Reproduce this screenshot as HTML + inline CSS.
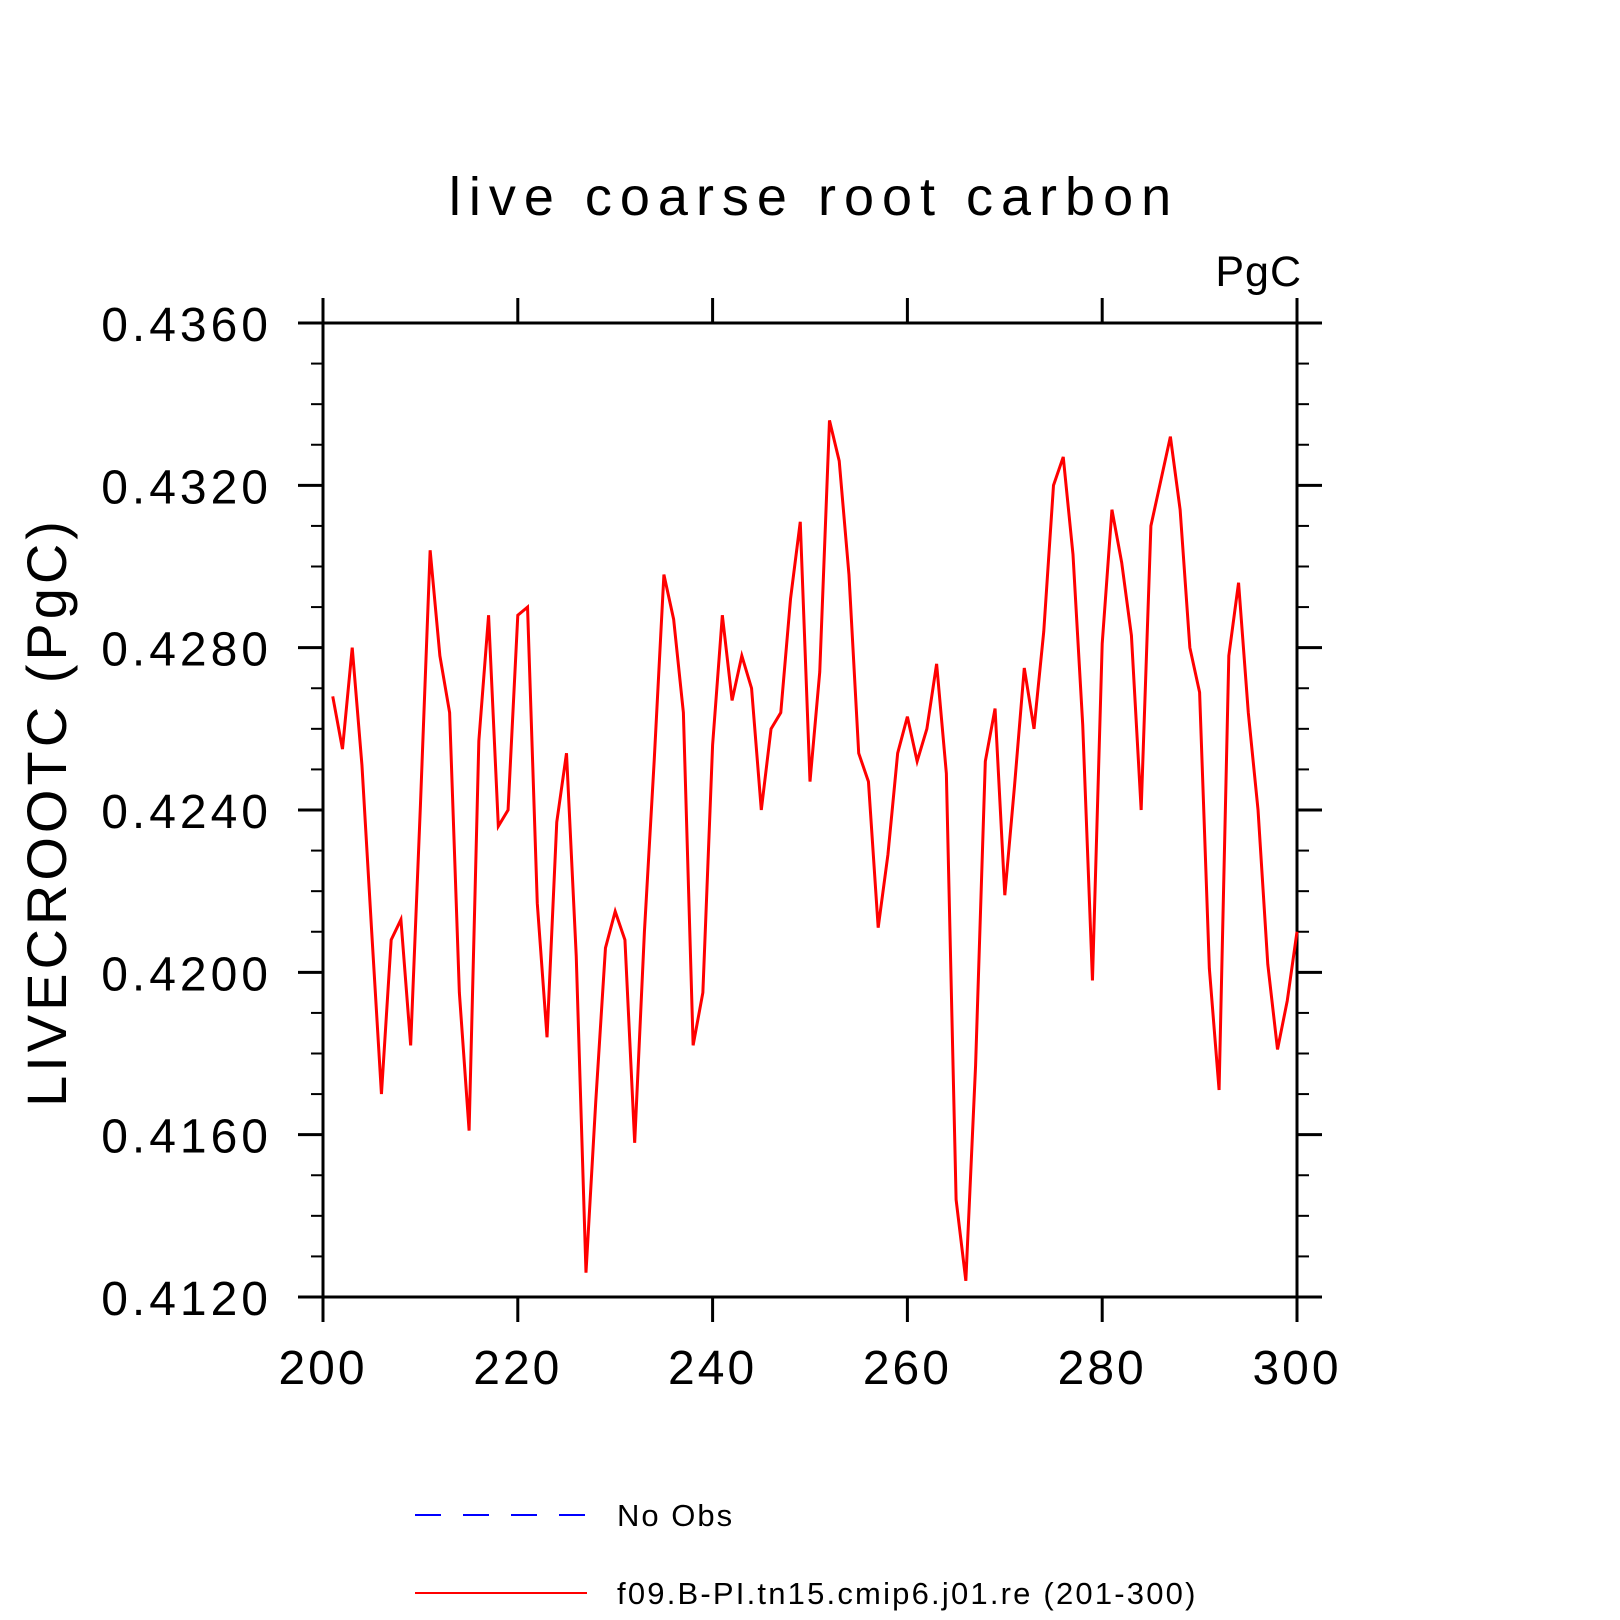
<!DOCTYPE html>
<html><head><meta charset="utf-8"><style>
html,body{margin:0;padding:0;background:#fff;}
svg{display:block;font-family:"Liberation Sans",sans-serif;}
</style></head><body>
<svg id="chart" width="1620" height="1620" viewBox="0 0 1620 1620" xmlns="http://www.w3.org/2000/svg">
<text x="814" y="215" font-size="54" text-anchor="middle" letter-spacing="8" fill="#000">live coarse root carbon</text>
<text x="1302" y="286" font-size="43" text-anchor="end" letter-spacing="1" fill="#000">PgC</text>
<text transform="translate(66,812) rotate(-90)" font-size="56" text-anchor="middle" letter-spacing="4" fill="#000">LIVECROOTC (PgC)</text>
<g id="axes"></g>
<g id="series"></g>
<g>
<line x1="415" y1="1515" x2="587" y2="1515" stroke="#0000ff" stroke-width="2" stroke-dasharray="26,22"/>
<text x="617" y="1526" font-size="31" letter-spacing="2" fill="#000">No Obs</text>
<line x1="415" y1="1593" x2="587" y2="1593" stroke="#ff0000" stroke-width="2"/>
<text x="617" y="1604" font-size="31" letter-spacing="2.2" fill="#000">f09.B-PI.tn15.cmip6.j01.re (201-300)</text>
</g>
</svg>
<script>
const years = [];
for (let y = 201; y <= 300; y++) years.push(y);
const values = [0.4268,0.4255,0.4280,0.4251,0.4210,0.4170,0.4208,0.4213,0.4182,0.4241,
0.4304,0.4278,0.4264,0.4195,0.4161,0.4257,0.4288,0.4236,0.4240,0.4288,
0.4290,0.4217,0.4184,0.4237,0.4254,0.4204,0.4126,0.4168,0.4206,0.4215,
0.4208,0.4158,0.4210,0.4252,0.4298,0.4287,0.4264,0.4182,0.4195,0.4256,
0.4288,0.4267,0.4278,0.4270,0.4240,0.4260,0.4264,0.4292,0.4311,0.4247,
0.4274,0.4336,0.4326,0.4298,0.4254,0.4247,0.4211,0.4229,0.4254,0.4263,
0.4252,0.4260,0.4276,0.4249,0.4144,0.4124,0.4177,0.4252,0.4265,0.4219,
0.4246,0.4275,0.4260,0.4284,0.4320,0.4327,0.4303,0.4261,0.4198,0.4281,
0.4314,0.4301,0.4283,0.4240,0.4310,0.4321,0.4332,0.4314,0.4280,0.4269,
0.4201,0.4171,0.4278,0.4296,0.4264,0.4240,0.4202,0.4181,0.4193,0.4210];
const xTicks = [200,220,240,260,280,300];
const yTicks = [0.4120,0.4160,0.4200,0.4240,0.4280,0.4320,0.4360];
const xMin=200,xMax=300,yMin=0.412,yMax=0.436;
const L=323,R=1297,T=323,B=1297;
const sx=v=>L+(v-xMin)/(xMax-xMin)*(R-L);
const sy=v=>B-(v-yMin)/(yMax-yMin)*(B-T);
const NS="http://www.w3.org/2000/svg";
const axes=document.getElementById('axes');
function ln(x1,y1,x2,y2,w,name){const e=document.createElementNS(NS,'line');
e.setAttribute('x1',x1);e.setAttribute('y1',y1);e.setAttribute('x2',x2);e.setAttribute('y2',y2);
e.setAttribute('stroke','#000');e.setAttribute('stroke-width',w);


axes.appendChild(e);}
const fr=document.createElementNS(NS,'rect');
fr.setAttribute('x',L);fr.setAttribute('y',T);fr.setAttribute('width',R-L);fr.setAttribute('height',B-T);
fr.setAttribute('fill','none');fr.setAttribute('stroke','#000');fr.setAttribute('stroke-width',3);


axes.appendChild(fr);
xTicks.forEach(t=>{const x=sx(t);ln(x,B,x,B+25,3,'x-tick');ln(x,T,x,T-25,3,'x-tick-top');
const tx=document.createElementNS(NS,'text');tx.setAttribute('x',x);tx.setAttribute('y',1384);
tx.setAttribute('font-size','48');tx.setAttribute('text-anchor','middle');tx.setAttribute('letter-spacing','3');tx.textContent=t;


axes.appendChild(tx);});
for(let k=0;k<=24;k++){const v=yMin+k*0.001;const y=sy(v);const major=(k%4===0);
const len=major?25:12;ln(L-len,y,L,y,major?3:2,'y-tick');ln(R,y,R+len,y,major?3:2,'y-tick-right');}
yTicks.forEach(t=>{const tx=document.createElementNS(NS,'text');tx.setAttribute('x',272);tx.setAttribute('y',sy(t)+18);
tx.setAttribute('font-size','48');tx.setAttribute('text-anchor','end');tx.setAttribute('letter-spacing','4');tx.textContent=t.toFixed(4);


axes.appendChild(tx);});
const p=document.createElementNS(NS,'polyline');
p.setAttribute('points',years.map((y,i)=>sx(y)+','+sy(values[i])).join(' '));
p.setAttribute('fill','none');p.setAttribute('stroke','#ff0000');p.setAttribute('stroke-width',3);p.setAttribute('stroke-linejoin','miter');


document.getElementById('series').appendChild(p);
</script>
</body></html>
